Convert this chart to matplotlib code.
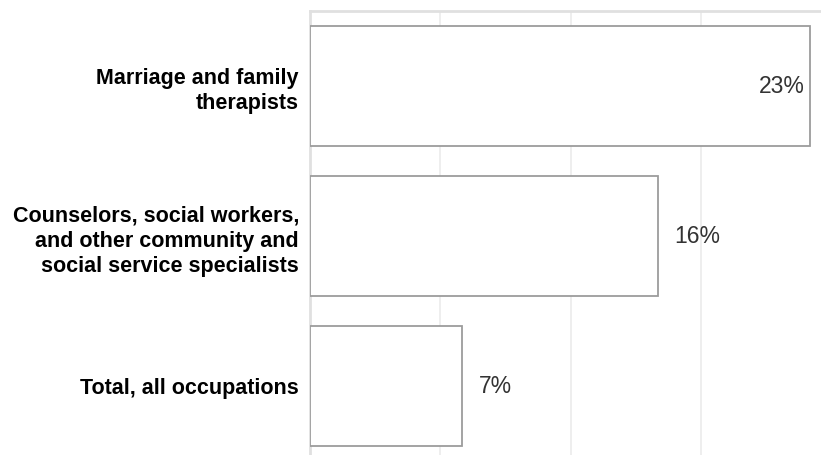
import matplotlib

matplotlib.use("Agg")
import matplotlib.pyplot as plt  # noqa: E402

# data, top to bottom
categories = [
    "Marriage and family\ntherapists",
    "Counselors, social workers,\nand other community and\nsocial service specialists",
    "Total, all occupations",
]
values = [23, 16, 7]
value_labels = ["23%", "16%", "7%"]
grid_ticks = [0, 6, 12, 18, 24]

plt.rcParams["font.family"] = ["Liberation Sans", "DejaVu Sans"]

fig = plt.figure(figsize=(8.21, 4.56), dpi=100)
ax = fig.add_axes([310 / 821, -5.5 / 456, 1 - 310 / 821, 450 / 456])

ypos = list(range(len(values)))
ax.barh(ypos, values, height=0.8, color="white", edgecolor="#9c9c9c",
        linewidth=1.3, zorder=3)

ax.set_xticks(grid_ticks)
ax.set_xlim(0, 23.5)
ax.set_ylim(len(values) - 0.5, -0.5)
ax.xaxis.grid(True, color="#ebebeb", linewidth=1.2, zorder=0)
ax.tick_params(axis="x", length=0, labelbottom=False)
ax.tick_params(axis="y", length=0, pad=8)
ax.set_yticks(ypos)
ax.set_yticklabels(categories, fontsize=15.5, fontweight="bold",
                   linespacing=1.28)

for s in ["right", "bottom"]:
    ax.spines[s].set_visible(False)
for s in ["top", "left"]:
    ax.spines[s].set_color("#e0e0e0")
    ax.spines[s].set_linewidth(2)

for y, v, lab in zip(ypos, values, value_labels):
    if v > 20:
        ax.text(v - 0.25, y, lab, ha="right", va="center", fontsize=16.5,
                color="#333333", zorder=4)
    else:
        ax.text(v + 0.75, y, lab, ha="left", va="center", fontsize=16.5,
                color="#333333", zorder=4)

fig.savefig("out.png", dpi=100)
